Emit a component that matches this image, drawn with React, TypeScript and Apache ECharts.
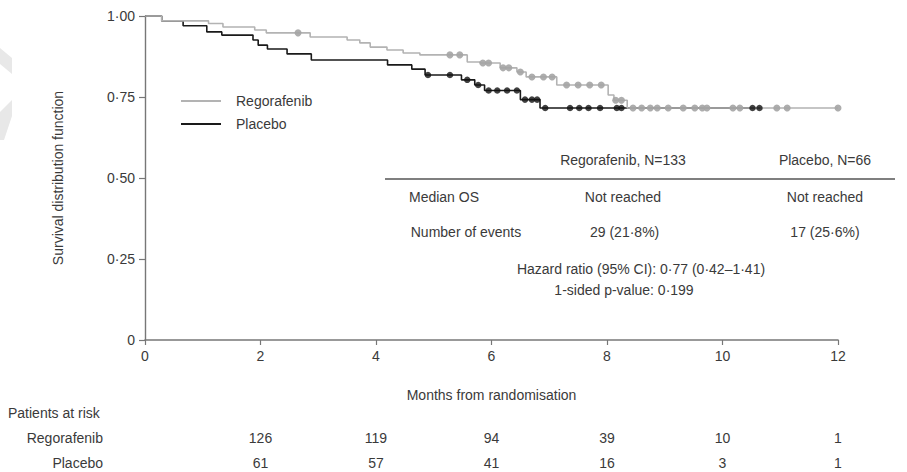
import React, { useEffect, useRef } from "react";
import * as echarts from "echarts";

// Kaplan–Meier step data (time in months, survival probability)
const regoTimes = [0, 0.29, 1.1, 1.35, 1.9, 2.1, 2.86, 3.5, 3.72, 3.9, 4.19, 4.47, 4.76, 5.58, 5.8, 6.15, 6.44, 6.6, 7.13, 8.02, 8.12, 8.35, 12];
const regoSurv = [1.0, 0.985, 0.977, 0.966, 0.957, 0.948, 0.935, 0.926, 0.917, 0.904, 0.895, 0.886, 0.88, 0.858, 0.855, 0.84, 0.827, 0.812, 0.787, 0.756, 0.74, 0.716, 0.716];

const placTimes = [0, 0.29, 0.66, 1.07, 1.33, 1.87, 1.96, 2.12, 2.46, 2.88, 4.2, 4.62, 4.85, 5.48, 5.71, 5.88, 6.5, 6.84, 10.65];
const placSurv = [1.0, 0.985, 0.97, 0.951, 0.941, 0.926, 0.91, 0.898, 0.883, 0.864, 0.849, 0.836, 0.818, 0.803, 0.787, 0.77, 0.742, 0.716, 0.716];

// Censoring times
const regoCensor = [2.65, 5.28, 5.45, 5.85, 5.95, 6.2, 6.3, 6.5, 6.7, 6.9, 7.05, 7.3, 7.5, 7.7, 7.9, 8.15, 8.25, 8.45, 8.6, 8.75, 8.87, 9.06, 9.32, 9.52, 9.65, 9.73, 10.18, 10.3, 10.94, 11.12, 12.0];
const placCensor = [4.9, 5.28, 5.58, 5.77, 5.95, 6.1, 6.27, 6.44, 6.58, 6.7, 6.79, 6.93, 7.36, 7.52, 7.68, 7.88, 8.17, 8.25, 10.52, 10.64];

const groups = ["Regorafenib", "Placebo"];
const yTickLabels = ["0", "0·25", "0·50", "0·75", "1·00"];
const riskTimes = [2, 4, 6, 8, 10, 12];
const riskRego = [126, 119, 94, 39, 10, 1];
const riskPlac = [61, 57, 41, 16, 3, 1];

const tableHeader = ["Regorafenib, N=133", "Placebo, N=66"];
const medianRow = ["Median OS", "Not reached", "Not reached"];
const eventsRow = ["Number of events", "29 (21·8%)", "17 (25·6%)"];
const hrText = "Hazard ratio (95% CI): 0·77 (0·42–1·41)";
const pText = "1-sided p-value: 0·199";

const FONT = '"Liberation Sans", Arial, sans-serif';
const TXT = "#3a3a3a";
const LIGHT = "#b3b3b3";
const DARK = "#1a1a1a";

function stepAt(times: number[], surv: number[], t: number) {
  let v = surv[0];
  for (let i = 0; i < times.length; i++) if (times[i] <= t) v = surv[i];
  return v;
}

function txt(text: string, x: number, y: number, align = "center", size = 14) {
  return {
    type: "text",
    silent: true,
    style: {
      text,
      x,
      y,
      fill: TXT,
      fontSize: size,
      fontFamily: FONT,
      textAlign: align,
      textVerticalAlign: "middle",
    },
  };
}

export default function App() {
  const ref = useRef<HTMLDivElement>(null);
  useEffect(() => {
    if (!ref.current) return;
    const chart = echarts.init(ref.current, undefined, { renderer: "svg" });
    chart.setOption({
      animation: false,
      backgroundColor: "#ffffff",
      grid: { left: 145, top: 16, right: 69, bottom: 132 },
      legend: {
        data: groups,
        orient: "vertical",
        left: 181,
        top: 94,
        itemWidth: 40,
        itemHeight: 2,
        itemGap: 9,
        icon: "rect",
        padding: 0,
        textStyle: { fontSize: 14, color: TXT, fontFamily: FONT, padding: [0, 0, 0, 10] },
      },
      xAxis: {
        type: "value",
        min: 0,
        max: 12,
        interval: 2,
        name: "Months from randomisation",
        nameLocation: "middle",
        nameGap: 48,
        nameTextStyle: { fontSize: 14, color: TXT, fontFamily: FONT },
        axisLine: { lineStyle: { color: "#777", width: 1.6 } },
        axisTick: { show: true, length: 5, lineStyle: { color: "#777", width: 1.2 } },
        axisLabel: { fontSize: 14, color: TXT, fontFamily: FONT, margin: 9 },
        splitLine: { show: false },
      },
      yAxis: {
        type: "value",
        min: 0,
        max: 1,
        interval: 0.25,
        name: "Survival distribution function",
        nameLocation: "middle",
        nameGap: 80,
        nameTextStyle: { fontSize: 14, color: TXT, fontFamily: FONT },
        axisLine: { show: true, lineStyle: { color: "#777", width: 1.4 } },
        axisTick: { show: true, length: 6, lineStyle: { color: "#777", width: 1.2 } },
        axisLabel: {
          fontSize: 14,
          color: TXT,
          fontFamily: FONT,
          margin: 10,
          formatter: (v: number) => yTickLabels[Math.round(v / 0.25)],
        },
        splitLine: { show: false },
      },
      series: [
        {
          name: "Placebo",
          type: "line",
          step: "end",
          showSymbol: false,
          data: placTimes.map((t, i) => [t, placSurv[i]]),
          lineStyle: { color: DARK, width: 1.6 },
          itemStyle: { color: DARK },
          z: 2,
        },
        {
          name: "Regorafenib",
          type: "line",
          step: "end",
          showSymbol: false,
          data: regoTimes.map((t, i) => [t, regoSurv[i]]),
          lineStyle: { color: LIGHT, width: 1.6 },
          itemStyle: { color: LIGHT },
          z: 3,
        },
        {
          name: "Regorafenib censored",
          type: "scatter",
          symbol: "circle",
          symbolSize: 7,
          data: regoCensor.map((t) => [t, stepAt(regoTimes, regoSurv, t)]),
          itemStyle: { color: "#a4a4a4", opacity: 0.9 },
          z: 4,
        },
        {
          name: "Placebo censored",
          type: "scatter",
          symbol: "circle",
          symbolSize: 6.5,
          data: placCensor.map((t) => [t, stepAt(placTimes, placSurv, t)]),
          itemStyle: { color: "#111" },
          z: 5,
        },
      ],
    });

    const riskX = riskTimes.map((t) => chart.convertToPixel({ xAxisIndex: 0 }, t) as number);
    const graphics: any[] = [
      { type: "polygon", silent: true, shape: { points: [[0, 48], [12, 58], [12, 74], [0, 64]] }, style: { fill: "#e8e8e8" } },
      { type: "polygon", silent: true, shape: { points: [[12, 100], [12, 116], [4, 140], [0, 140], [0, 112]] }, style: { fill: "#e8e8e8" } },
      txt(tableHeader[0], 623, 160),
      txt(tableHeader[1], 825, 160),
      { type: "line", silent: true, shape: { x1: 385, y1: 179, x2: 895, y2: 179 }, style: { stroke: "#555", lineWidth: 1.5 } },
      txt(medianRow[0], 444, 197),
      txt(medianRow[1], 623, 197),
      txt(medianRow[2], 825, 197),
      txt(eventsRow[0], 466, 232),
      txt(eventsRow[1], 590, 232, "left"),
      txt(eventsRow[2], 825, 232),
      txt(hrText, 641, 269),
      txt(pText, 624, 290),
      txt("Patients at risk", 8, 413, "left"),
      txt(groups[0], 103, 438, "right"),
      txt(groups[1], 103, 463, "right"),
    ];
    riskX.forEach((x, i) => {
      graphics.push(txt(String(riskRego[i]), x, 438));
      graphics.push(txt(String(riskPlac[i]), x, 463));
    });
    chart.setOption({ graphic: graphics });

    return () => chart.dispose();
  }, []);
  return <div ref={ref} style={{ position: "absolute", left: 0, top: 0, width: 907, height: 472 }} />;
}
